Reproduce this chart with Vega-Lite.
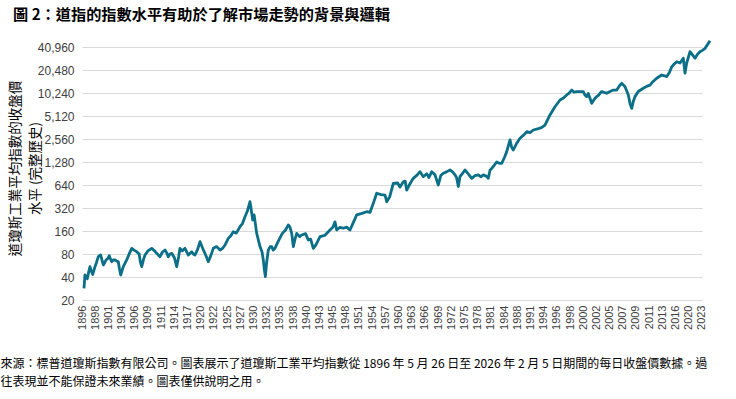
{
  "$schema": "https://vega.github.io/schema/vega-lite/v6.json",
  "autosize": "none",
  "width": 635,
  "height": 253,
  "padding": {"left": 82, "top": 47, "right": 19, "bottom": 99},
  "background": "#ffffff",
  "title": {
    "text": "圖 2：道指的指數水平有助於了解市場走勢的背景與邏輯",
    "anchor": "start",
    "frame": "group",
    "dx": -69,
    "offset": 4,
    "baseline": "alphabetic",
    "font": "Noto Sans CJK TC",
    "fontSize": 15.2,
    "fontWeight": "bold",
    "color": "#000000"
  },
  "config": {
    "view": {"stroke": null},
    "axis": {"labelFont": "Liberation Sans", "titleFont": "Noto Sans CJK TC"}
  },
  "data": {
    "values": [
      {"year": 1896.30, "close": 28.4}, {"year": 1896.45, "close": 42.5}, {"year": 1896.80, "close": 38},
      {"year": 1897.00, "close": 46}, {"year": 1897.21, "close": 54.6}, {"year": 1897.40, "close": 48},
      {"year": 1897.62, "close": 43}, {"year": 1897.97, "close": 54.6}, {"year": 1898.30, "close": 62},
      {"year": 1898.71, "close": 73.8}, {"year": 1899.25, "close": 77.6}, {"year": 1899.50, "close": 68},
      {"year": 1899.85, "close": 57.5}, {"year": 1900.20, "close": 62}, {"year": 1900.46, "close": 66.8},
      {"year": 1900.90, "close": 70}, {"year": 1901.21, "close": 76}, {"year": 1901.50, "close": 68},
      {"year": 1901.76, "close": 63.5}, {"year": 1902.10, "close": 67}, {"year": 1902.51, "close": 66.8},
      {"year": 1902.90, "close": 65}, {"year": 1903.26, "close": 63.5}, {"year": 1903.50, "close": 52},
      {"year": 1903.80, "close": 42.5}, {"year": 1904.26, "close": 54.6}, {"year": 1904.78, "close": 66.8},
      {"year": 1905.20, "close": 82}, {"year": 1905.54, "close": 94.9}, {"year": 1905.90, "close": 90},
      {"year": 1906.44, "close": 85.8}, {"year": 1907.00, "close": 80}, {"year": 1907.30, "close": 62},
      {"year": 1907.58, "close": 54.6}, {"year": 1908.00, "close": 68}, {"year": 1908.33, "close": 77.6},
      {"year": 1909.00, "close": 88}, {"year": 1909.57, "close": 94.9}, {"year": 1910.00, "close": 88},
      {"year": 1910.33, "close": 81.6}, {"year": 1910.83, "close": 73.8}, {"year": 1911.30, "close": 85},
      {"year": 1911.88, "close": 90.3}, {"year": 1912.30, "close": 82}, {"year": 1912.63, "close": 73.8},
      {"year": 1913.00, "close": 80}, {"year": 1913.40, "close": 81.6}, {"year": 1914.00, "close": 72},
      {"year": 1914.54, "close": 54.6}, {"year": 1915.00, "close": 75}, {"year": 1915.29, "close": 94.9},
      {"year": 1915.80, "close": 88}, {"year": 1916.43, "close": 94.9}, {"year": 1917.18, "close": 77.6},
      {"year": 1917.95, "close": 85.8}, {"year": 1918.30, "close": 80}, {"year": 1918.70, "close": 77.6},
      {"year": 1919.30, "close": 92}, {"year": 1919.84, "close": 116}, {"year": 1920.30, "close": 94.9},
      {"year": 1920.80, "close": 76}, {"year": 1921.15, "close": 63.5}, {"year": 1921.50, "close": 75},
      {"year": 1921.91, "close": 94.9}, {"year": 1922.60, "close": 100}, {"year": 1923.39, "close": 90.3},
      {"year": 1924.00, "close": 95}, {"year": 1924.53, "close": 104.9}, {"year": 1925.18, "close": 128},
      {"year": 1925.60, "close": 140}, {"year": 1925.94, "close": 157}, {"year": 1926.40, "close": 150},
      {"year": 1926.96, "close": 182}, {"year": 1927.50, "close": 200}, {"year": 1928.07, "close": 246},
      {"year": 1928.60, "close": 290}, {"year": 1929.21, "close": 388}, {"year": 1929.40, "close": 330},
      {"year": 1929.83, "close": 223}, {"year": 1930.10, "close": 260}, {"year": 1930.49, "close": 149},
      {"year": 1930.99, "close": 100}, {"year": 1931.30, "close": 85}, {"year": 1931.49, "close": 67},
      {"year": 1931.65, "close": 50}, {"year": 1931.80, "close": 40.5}, {"year": 1932.00, "close": 62},
      {"year": 1932.37, "close": 90}, {"year": 1932.80, "close": 100}, {"year": 1933.15, "close": 100},
      {"year": 1933.50, "close": 90}, {"year": 1933.90, "close": 95}, {"year": 1934.40, "close": 110},
      {"year": 1935.03, "close": 130}, {"year": 1935.60, "close": 150}, {"year": 1936.30, "close": 165},
      {"year": 1936.92, "close": 192}, {"year": 1937.30, "close": 180}, {"year": 1937.70, "close": 149},
      {"year": 1938.04, "close": 100}, {"year": 1938.30, "close": 125}, {"year": 1938.56, "close": 149},
      {"year": 1939.00, "close": 135}, {"year": 1939.31, "close": 142}, {"year": 1939.90, "close": 148},
      {"year": 1940.47, "close": 122}, {"year": 1941.00, "close": 125}, {"year": 1941.61, "close": 95},
      {"year": 1942.20, "close": 105}, {"year": 1943.09, "close": 135}, {"year": 1943.80, "close": 140},
      {"year": 1944.60, "close": 165}, {"year": 1945.10, "close": 180}, {"year": 1945.54, "close": 211},
      {"year": 1945.93, "close": 165}, {"year": 1946.60, "close": 178}, {"year": 1947.43, "close": 174},
      {"year": 1948.20, "close": 180}, {"year": 1948.95, "close": 165}, {"year": 1949.60, "close": 200},
      {"year": 1950.48, "close": 260}, {"year": 1951.50, "close": 270}, {"year": 1952.75, "close": 286},
      {"year": 1953.50, "close": 280}, {"year": 1954.25, "close": 368}, {"year": 1955.03, "close": 499},
      {"year": 1956.00, "close": 480}, {"year": 1956.92, "close": 473}, {"year": 1957.30, "close": 386},
      {"year": 1958.00, "close": 450}, {"year": 1958.80, "close": 672}, {"year": 1959.80, "close": 680},
      {"year": 1960.30, "close": 600}, {"year": 1961.08, "close": 705}, {"year": 1961.50, "close": 720},
      {"year": 1961.85, "close": 550}, {"year": 1962.50, "close": 650}, {"year": 1963.35, "close": 783},
      {"year": 1964.20, "close": 860}, {"year": 1964.88, "close": 956}, {"year": 1965.63, "close": 822},
      {"year": 1966.40, "close": 900}, {"year": 1966.90, "close": 800}, {"year": 1967.54, "close": 956},
      {"year": 1968.29, "close": 870}, {"year": 1969.04, "close": 640}, {"year": 1969.60, "close": 850},
      {"year": 1970.18, "close": 911}, {"year": 1970.90, "close": 950}, {"year": 1971.70, "close": 1006},
      {"year": 1972.30, "close": 950}, {"year": 1972.84, "close": 870}, {"year": 1973.20, "close": 800},
      {"year": 1973.59, "close": 610}, {"year": 1973.97, "close": 822}, {"year": 1974.50, "close": 900},
      {"year": 1975.11, "close": 1006}, {"year": 1975.80, "close": 900}, {"year": 1976.64, "close": 783},
      {"year": 1977.40, "close": 850}, {"year": 1978.14, "close": 870}, {"year": 1978.70, "close": 820},
      {"year": 1979.27, "close": 870}, {"year": 1980.00, "close": 830}, {"year": 1980.41, "close": 783},
      {"year": 1980.80, "close": 1000}, {"year": 1981.19, "close": 1055}, {"year": 1981.70, "close": 1150},
      {"year": 1982.32, "close": 1280}, {"year": 1982.90, "close": 1230}, {"year": 1983.46, "close": 1230},
      {"year": 1984.20, "close": 1500}, {"year": 1984.80, "close": 1750}, {"year": 1985.80, "close": 2490},
      {"year": 1986.30, "close": 2000}, {"year": 1986.80, "close": 1840}, {"year": 1987.70, "close": 2200},
      {"year": 1988.62, "close": 2620}, {"year": 1989.50, "close": 2900}, {"year": 1990.15, "close": 3190},
      {"year": 1990.90, "close": 3100}, {"year": 1991.65, "close": 3360}, {"year": 1992.79, "close": 3500},
      {"year": 1993.50, "close": 3600}, {"year": 1994.20, "close": 3900}, {"year": 1994.96, "close": 5280},
      {"year": 1995.72, "close": 6770}, {"year": 1996.48, "close": 8300}, {"year": 1997.00, "close": 8800},
      {"year": 1997.50, "close": 9640}, {"year": 1997.90, "close": 10300}, {"year": 1998.25, "close": 11200},
      {"year": 1998.60, "close": 10500}, {"year": 1999.01, "close": 10700}, {"year": 1999.51, "close": 10700},
      {"year": 2000.01, "close": 10700}, {"year": 2000.27, "close": 9640}, {"year": 2000.53, "close": 9180},
      {"year": 2000.77, "close": 10100}, {"year": 2001.29, "close": 7500}, {"year": 2001.79, "close": 8740},
      {"year": 2002.07, "close": 9180}, {"year": 2002.50, "close": 9600}, {"year": 2002.82, "close": 10150},
      {"year": 2003.20, "close": 10700}, {"year": 2003.80, "close": 10400}, {"year": 2004.34, "close": 10150},
      {"year": 2005.06, "close": 10700}, {"year": 2005.56, "close": 11200}, {"year": 2006.08, "close": 11200},
      {"year": 2006.58, "close": 13000}, {"year": 2006.83, "close": 13700}, {"year": 2007.34, "close": 12400},
      {"year": 2007.84, "close": 9640}, {"year": 2008.09, "close": 7500}, {"year": 2008.35, "close": 6450},
      {"year": 2008.60, "close": 8000}, {"year": 2008.85, "close": 9180}, {"year": 2009.35, "close": 10700},
      {"year": 2010.11, "close": 11800}, {"year": 2010.60, "close": 12500}, {"year": 2011.13, "close": 13000},
      {"year": 2011.60, "close": 14500}, {"year": 2012.14, "close": 16000}, {"year": 2012.90, "close": 17600},
      {"year": 2013.50, "close": 17200}, {"year": 2013.99, "close": 16800}, {"year": 2014.60, "close": 19000},
      {"year": 2015.12, "close": 22500}, {"year": 2015.70, "close": 24500}, {"year": 2016.35, "close": 26300},
      {"year": 2017.35, "close": 25300}, {"year": 2018.35, "close": 29200}, {"year": 2018.86, "close": 18600},
      {"year": 2019.38, "close": 25300}, {"year": 2020.29, "close": 35600}, {"year": 2020.90, "close": 32000},
      {"year": 2021.42, "close": 29200}, {"year": 2022.00, "close": 33000}, {"year": 2022.56, "close": 35600},
      {"year": 2023.10, "close": 37000}, {"year": 2023.70, "close": 39300}, {"year": 2024.45, "close": 45700},
      {"year": 2024.84, "close": 49500}
    ]
  },
  "mark": {"type": "line", "color": "#0a6f87", "strokeWidth": 2.8, "strokeJoin": "round", "clip": false},
  "encoding": {
    "x": {
      "field": "year",
      "type": "quantitative",
      "scale": {
        "nice": false,
        "zero": false,
        "domain": [1896,1898,1901,1904,1906,1909,1911,1914,1917,1920,1922,1925,1927,1930,1932,1935,1938,1940,1943,1945,1948,1951,1954,1957,1960,1963,1966,1969,1972,1975,1978,1981,1984,1988,1991,1994,1996,1998,2000,2002,2005,2007,2009,2011,2013,2016,2020,2023],
        "range": [0,13.19,26.38,39.57,52.76,65.95,79.14,92.33,105.52,118.71,131.9,145.09,158.28,171.47,184.66,197.85,211.04,224.23,237.42,250.61,263.8,276.99,290.18,303.37,316.56,329.75,342.94,356.13,369.32,382.51,395.7,408.89,422.08,435.27,448.46,461.65,474.84,488.03,501.22,514.41,527.6,540.79,553.98,567.17,580.36,593.55,606.74,619.93]
      },
      "axis": {
        "values": [1896,1898,1901,1904,1906,1909,1911,1914,1917,1920,1922,1925,1927,1930,1932,1935,1938,1940,1943,1945,1948,1951,1954,1957,1960,1963,1966,1969,1972,1975,1978,1981,1984,1988,1991,1994,1996,1998,2000,2002,2005,2007,2009,2011,2013,2016,2020,2023],
        "format": "d",
        "labelAngle": -90,
        "labelAlign": "right",
        "labelBaseline": "middle",
        "labelFontSize": 11,
        "labelColor": "#404040",
        "labelPadding": 5,
        "labelOverlap": false,
        "labelFlush": false,
        "ticks": false,
        "domain": false,
        "grid": false,
        "title": ["來源：標普道瓊斯指數有限公司。圖表展示了道瓊斯工業平均指數從 1896 年 5 月 26 日至 2026 年 2 月 5 日期間的每日收盤價數據。過", "往表現並不能保證未來業績。圖表僅供說明之用。"],
        "titleFontSize": 12,
        "titleFontWeight": "normal",
        "titleColor": "#000000",
        "titleAnchor": "start",
        "titleAlign": "left",
        "titleBaseline": "alphabetic",
        "titleX": -82,
        "titleY": 67,
        "titleLineHeight": 18
      }
    },
    "y": {
      "field": "close",
      "type": "quantitative",
      "scale": {"type": "log", "base": 2, "domain": [20, 40960], "nice": false},
      "axis": {
        "values": [20, 40, 80, 160, 320, 640, 1280, 2560, 5120, 10240, 20480, 40960],
        "format": ",",
        "labelFontSize": 12,
        "labelColor": "#404040",
        "labelPadding": 8,
        "ticks": false,
        "domain": false,
        "grid": true,
        "gridColor": "#d9d9d9",
        "gridWidth": 1,
        "title": ["道瓊斯工業平均指數的收盤價", "水平 (完整歷史)"],
        "titleFontSize": 13.5,
        "titleFontWeight": "normal",
        "titleColor": "#000000",
        "titleAngle": 270,
        "titleAlign": "center",
        "titleBaseline": "middle",
        "titleLineHeight": 20,
        "titleX": -67,
        "titleY": 121
      }
    }
  }
}
